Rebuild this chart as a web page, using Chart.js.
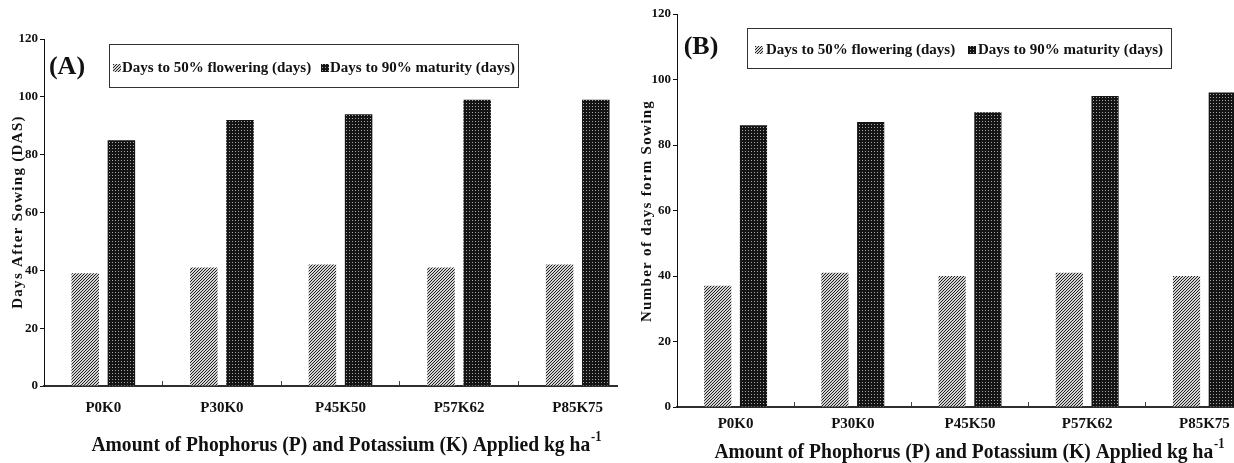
<!DOCTYPE html>
<html>
<head>
<meta charset="utf-8">
<script src="https://cdn.jsdelivr.net/npm/chart.js@4.4.1/dist/chart.umd.min.js"></script>
<style>
  html, body { margin: 0; padding: 0; background: #fff; }
  #wrap { position: relative; width: 1234px; height: 463px; overflow: hidden; }
  .panel { position: absolute; top: 0; height: 463px; overflow: hidden; }
  #pA { left: 0; width: 618px; }
  #pB { left: 615px; width: 619px; }
</style>
</head>
<body>
<div id="wrap">
  <div class="panel" id="pB"><canvas id="cB" width="670" height="463"></canvas></div>
  <div class="panel" id="pA"><canvas id="cA" width="650" height="463"></canvas></div>
</div>
<script>
  const categories = ['P0K0', 'P30K0', 'P45K50', 'P57K62', 'P85K75'];
  const seriesNames = ['Days to 50% flowering (days)', 'Days to 90% maturity (days)'];
  const floweringA = [39, 41, 42, 41, 42];
  const maturityA = [85, 92, 94, 99, 99];
  const floweringB = [37, 41, 40, 41, 40];
  const maturityB = [86, 87, 90, 95, 96];
  const yMin = 0, yMax = 120, yStep = 20;
  const xTitle = 'Amount of Phophorus (P) and Potassium (K) Applied kg ha';
  const xTitleSup = '-1';
  const yTitleA = 'Days After Sowing (DAS)';
  const yTitleB = 'Number of days form Sowing';

  const SERIF = "'Liberation Serif', 'Times New Roman', serif";

  // small tiles -> canvas patterns, like the excel fill styles
  function tile(ctx, size, paint) {
    const c = document.createElement('canvas');
    c.width = c.height = size;
    paint(c.getContext('2d'));
    return ctx.createPattern(c, 'repeat');
  }
  const hatch = (ctx) => tile(ctx, 3, (g) => {
    g.fillStyle = '#d4d4d4'; g.fillRect(0, 0, 3, 3);
    g.fillStyle = '#202020';
    for (let x = 0; x < 3; x++) for (let y = 0; y < 3; y++) if ((x + y) % 3 === 0) g.fillRect(x, y, 1, 1);
  });
  const dots = (ctx) => tile(ctx, 3, (g) => {
    g.fillStyle = '#141414'; g.fillRect(0, 0, 3, 3);
    g.fillStyle = '#a8a8a8'; g.fillRect(1, 1, 1, 1);
  });

  const decor = {
    id: 'decor',
    afterDraw(chart, args, o) {
      const ctx = chart.ctx;
      ctx.save();
      ctx.fillStyle = '#111';
      ctx.textBaseline = 'middle';

      // panel letter
      ctx.font = `bold 26px ${SERIF}`;
      ctx.textAlign = 'center';
      ctx.fillText(o.panel, o.panelX, o.panelY);

      // legend box
      const lg = o.legend;
      ctx.strokeStyle = '#333';
      ctx.lineWidth = 1;
      ctx.strokeRect(lg.x + 0.5, lg.y + 0.5, lg.w, lg.h);
      ctx.font = `bold 15px ${SERIF}`;
      ctx.textAlign = 'left';
      chart.data.datasets.forEach((ds, i) => {
        const it = lg.items[i];
        ctx.fillStyle = ds.backgroundColor;
        ctx.fillRect(it.box, lg.cy - 3, 8, 8);
        ctx.fillStyle = '#111';
        ctx.fillText(ds.label, it.text, lg.cy + 1);
      });

      // y title (rotated)
      ctx.save();
      ctx.translate(o.yTitle.x, o.yTitle.y);
      ctx.rotate(-Math.PI / 2);
      ctx.font = `bold 15px ${SERIF}`;
      ctx.textAlign = 'center';
      if ('letterSpacing' in ctx) ctx.letterSpacing = '1.3px';
      ctx.fillText(o.yTitle.text, 0, 0);
      ctx.restore();

      // x title with superscript, a bit condensed like the source
      ctx.save();
      ctx.translate(o.xTitle.x, o.xTitle.y);
      ctx.scale(0.89, 1);
      ctx.font = `bold 22px ${SERIF}`;
      const wMain = ctx.measureText(xTitle).width;
      ctx.font = `bold 14px ${SERIF}`;
      const wSup = ctx.measureText(xTitleSup).width;
      const x0 = -(wMain + wSup) / 2;
      ctx.textAlign = 'left';
      ctx.font = `bold 22px ${SERIF}`;
      ctx.fillText(xTitle, x0, 0);
      ctx.font = `bold 14px ${SERIF}`;
      ctx.fillText(xTitleSup, x0 + wMain + 1, -8);
      ctx.restore();

      ctx.restore();
    }
  };

  function build(id, flowering, maturity, o) {
    const ctx = document.getElementById(id).getContext('2d');
    return new Chart(ctx, {
      type: 'bar',
      data: {
        labels: categories,
        datasets: [
          { label: seriesNames[0], data: flowering, backgroundColor: hatch(ctx), borderWidth: 0,
            categoryPercentage: 0.61, barPercentage: 0.76 },
          { label: seriesNames[1], data: maturity, backgroundColor: dots(ctx), borderWidth: 0,
            categoryPercentage: 0.61, barPercentage: 0.76 },
        ],
      },
      options: {
        responsive: false,
        animation: false,
        layout: { padding: { left: 0, right: o.padRight, top: o.padTop, bottom: 0 } },
        plugins: { legend: { display: false }, tooltip: { enabled: false }, decor: o.decor },
        scales: {
          x: {
            grid: { drawOnChartArea: false, offset: true, tickLength: -5, color: '#444', lineWidth: 1 },
            border: { color: '#2e2e2e', width: 2 },
            ticks: { font: { family: SERIF, size: 15, weight: 'bold' }, color: '#111', padding: o.xPad },
            afterFit: (s) => { s.height = o.xHeight; },
          },
          y: {
            min: yMin, max: yMax,
            ticks: { stepSize: yStep, font: { family: SERIF, size: 13, weight: 'bold' }, color: '#111', padding: 2 },
            grid: { drawOnChartArea: false, tickLength: 4, color: '#111', lineWidth: 1 },
            border: { color: '#111', width: 1 },
            afterFit: (s) => { s.width = o.yWidth; },
          },
        },
      },
      plugins: [decor],
    });
  }

  build('cA', floweringA, maturityA, {
    padRight: 13, padTop: 39, xHeight: 77, yWidth: 44, xPad: 18,
    decor: {
      panel: '(A)', panelX: 67, panelY: 67,
      legend: { x: 109, y: 44, w: 409, h: 43, cy: 67, items: [{ box: 113, text: 122 }, { box: 321, text: 330 }] },
      yTitle: { text: yTitleA, x: 18, y: 212 },
      xTitle: { x: 346, y: 445 },
    },
  });

  build('cB', floweringB, maturityB, {
    padRight: 22, padTop: 14, xHeight: 56, yWidth: 62, xPad: 13,
    decor: {
      panel: '(B)', panelX: 86, panelY: 47,
      legend: { x: 132, y: 28, w: 424, h: 40, cy: 49, items: [{ box: 140, text: 151 }, { box: 353, text: 363 }] },
      yTitle: { text: yTitleB, x: 32, y: 211 },
      xTitle: { x: 354, y: 452 },
    },
  });
</script>
</body>
</html>
